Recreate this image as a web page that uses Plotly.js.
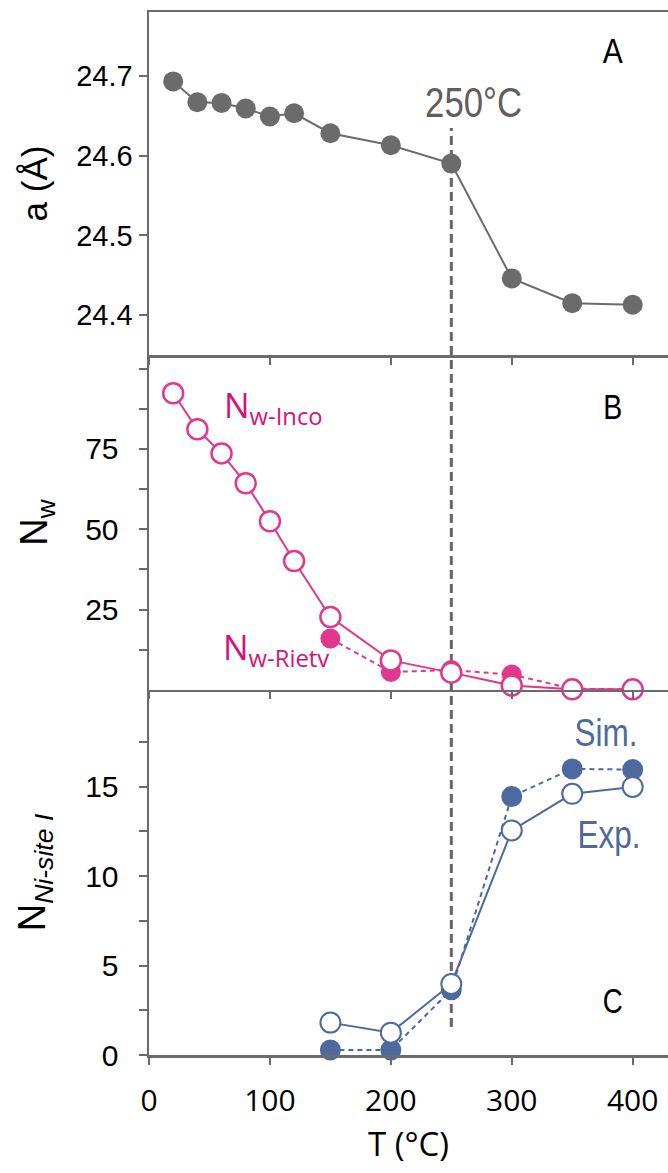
<!DOCTYPE html>
<html>
<head>
<meta charset="utf-8">
<script src="https://cdn.plot.ly/plotly-3.0.1.min.js"></script>
<style>html,body{margin:0;padding:0;background:#fff;}#chart{width:668px;height:1173px;}</style>
</head>
<body>
<div id="chart"></div>
<script>
// ---- Data ----
const T_all = [20, 40, 60, 80, 100, 120, 150, 200, 250, 300, 350, 400];
const latticeA = [24.693, 24.667, 24.666, 24.659, 24.649, 24.653, 24.628, 24.613, 24.590, 24.446, 24.415, 24.413];
const Nw_inco = [92.3, 81.1, 73.6, 64.3, 52.5, 40.1, 22.7, 9.2, 5.4, 1.4, 0.2, 0.2];
const T_rietv = [150, 200, 250, 300, 350, 400];
const Nw_rietv = [16.0, 5.6, 6.2, 4.8, 0.4, 0.2];
const T_ni = [150, 200, 250, 300, 350, 400];
const Ni_sim = [0.28, 0.28, 3.64, 14.45, 15.99, 15.95];
const Ni_exp = [1.81, 1.25, 3.97, 12.55, 14.6, 14.98];
const transitionT = 250;
const xTicks = [0, 100, 200, 300, 400];
const aTicks = [24.4, 24.5, 24.6, 24.7];
const nwTicks = [25, 50, 75];
const nwMinor = [12.5, 37.5, 62.5, 87.5, 100];
const niTicks = [0, 5, 10, 15];
const niMinor = [2.5, 7.5, 12.5, 17.5];

// ---- Styles ----
const GRAY = '#6b6b6b';
const PINK = '#e0388c';
const PINK_TXT = '#d3137a';
const BLUE = '#4c6a9f';
const AXC = '#6b6b6b';
const SANS = '"Liberation Sans", Arial, sans-serif';
const CAL = '"Open Sans", "Liberation Sans", sans-serif';

const traces = [
  {x: T_all, y: latticeA, xaxis: 'x3', yaxis: 'y3', mode: 'lines+markers',
   line: {color: GRAY, width: 2}, marker: {color: GRAY, size: 20}, cliponaxis: false},
  {x: T_rietv, y: Nw_rietv, xaxis: 'x2', yaxis: 'y2', mode: 'lines+markers',
   line: {color: PINK, width: 2, dash: '5px,4px'}, marker: {color: PINK, size: 20}, cliponaxis: false},
  {x: T_all, y: Nw_inco, xaxis: 'x2', yaxis: 'y2', mode: 'lines+markers',
   line: {color: PINK, width: 2}, marker: {color: '#ffffff', size: 20, line: {color: PINK, width: 2.5}}, cliponaxis: false},
  {x: T_ni, y: Ni_sim, xaxis: 'x', yaxis: 'y', mode: 'lines+markers',
   line: {color: BLUE, width: 2, dash: '5px,4px'}, marker: {color: BLUE, size: 21}, cliponaxis: false},
  {x: T_ni, y: Ni_exp, xaxis: 'x', yaxis: 'y', mode: 'lines+markers',
   line: {color: BLUE, width: 2}, marker: {color: '#ffffff', size: 20, line: {color: BLUE, width: 2}}, cliponaxis: false}
];

const xBase = {
  range: [0, 429.2], tickmode: 'array', tickvals: xTicks, ticks: 'outside', ticklen: 7, tickwidth: 2, tickcolor: AXC,
  showline: true, linecolor: AXC, linewidth: 2.5, showgrid: false, zeroline: false, fixedrange: true
};
const yBase = {
  tickmode: 'array', ticks: 'outside', ticklen: 8, tickwidth: 2, tickcolor: AXC,
  showline: true, linecolor: AXC, linewidth: 2.5, showgrid: false, zeroline: false,
  tickfont: {family: SANS, size: 30, color: '#000'}, ticklabelstandoff: 14
};
function minorTicks(vals) {
  return {tickmode: 'array', tickvals: vals, ticks: 'outside', ticklen: 8, tickwidth: 2, tickcolor: AXC, showgrid: false};
}

// condensed label helper: text -> target width in px
const narrowLabels = {'A': 20, 'B': 19, 'C': 20, '250°C': 97, 'Sim.': 63, 'Exp.': 63};

const layout = {
  width: 668, height: 1173,
  margin: {l: 149, r: 0, t: 12, b: 118, pad: 0},
  paper_bgcolor: '#ffffff', plot_bgcolor: '#ffffff', showlegend: false,
  xaxis: Object.assign({}, xBase, {anchor: 'y', tickfont: {family: CAL, size: 30, color: '#000'},
    ticklabelstandoff: 10,
    title: {text: 'T (°C)', font: {family: CAL, size: 33, color: '#000'}, standoff: 15}}),
  xaxis2: Object.assign({}, xBase, {anchor: 'y2', showticklabels: false}),
  xaxis3: Object.assign({}, xBase, {anchor: 'y3', showticklabels: false, mirror: true}),
  yaxis: Object.assign({}, yBase, {domain: [0, 0.34996], anchor: 'x', range: [0, 20.4],
    tickvals: niTicks, minor: minorTicks(niMinor),
    title: {text: 'N<sub><i>Ni-site I</i></sub>', font: {family: SANS, size: 38, color: '#000'}, standoff: 28}}),
  yaxis2: Object.assign({}, yBase, {domain: [0.34996, 0.67114], anchor: 'x2', range: [0, 104.2],
    tickvals: nwTicks, minor: minorTicks(nwMinor),
    title: {text: 'N<sub>w</sub>', font: {family: SANS, size: 38, color: '#000'}, standoff: 26}}),
  yaxis3: Object.assign({}, yBase, {domain: [0.67114, 1], anchor: 'x3', range: [24.35, 24.78],
    tickvals: aTicks, ticktext: aTicks.map(v => v.toFixed(1)),
    tickfont: {family: SANS, size: 29, color: '#000'}, ticklabelstandoff: 0,
    title: {text: 'a (Å)', font: {family: SANS, size: 35, color: '#000'}, standoff: 18}}),
  shapes: [
    {type: 'line', xref: 'x', yref: 'paper', x0: transitionT, x1: transitionT, y0: 0.0268, y1: 0.8888,
     line: {color: '#666666', width: 3, dash: '9px,5px'}, layer: 'below'}
  ],
  annotations: [
    {text: 'A', xref: 'paper', yref: 'paper', x: 0.8940, y: 0.9635, xanchor: 'center', yanchor: 'middle', showarrow: false,
     font: {family: SANS, size: 35, color: '#000'}},
    {text: 'B', xref: 'paper', yref: 'paper', x: 0.8940, y: 0.6218, xanchor: 'center', yanchor: 'middle', showarrow: false,
     font: {family: SANS, size: 35, color: '#000'}},
    {text: 'C', xref: 'paper', yref: 'paper', x: 0.8940, y: 0.0523, xanchor: 'center', yanchor: 'middle', showarrow: false,
     font: {family: SANS, size: 35, color: '#000'}},
    {text: '250°C', xref: 'paper', yref: 'paper', x: 0.6252, y: 0.9136, xanchor: 'center', yanchor: 'middle', showarrow: false,
     font: {family: SANS, size: 42, color: '#5e5e5e'}},
    {text: 'N<sub>w-Inco</sub>', xref: 'paper', yref: 'paper', x: 0.1407, y: 0.6210, xanchor: 'left', yanchor: 'middle', showarrow: false,
     font: {family: CAL, size: 34, color: PINK_TXT}},
    {text: 'N<sub>w-Rietv</sub>', xref: 'paper', yref: 'paper', x: 0.1387, y: 0.3895, xanchor: 'left', yanchor: 'middle', showarrow: false,
     font: {family: CAL, size: 34, color: PINK_TXT}},
    {text: 'Sim.', xref: 'paper', yref: 'paper', x: 0.8815, y: 0.3092, xanchor: 'center', yanchor: 'middle', showarrow: false,
     font: {family: SANS, size: 39, color: BLUE}},
    {text: 'Exp.', xref: 'paper', yref: 'paper', x: 0.8854, y: 0.2110, xanchor: 'center', yanchor: 'middle', showarrow: false,
     font: {family: SANS, size: 39, color: BLUE}}
  ]
};

Plotly.newPlot('chart', traces, layout, {staticPlot: true, displayModeBar: false}).then(function (gd) {
  // emulate the condensed typeface of the panel labels
  gd.querySelectorAll('.annotation-text').forEach(function (t) {
    const w = narrowLabels[t.textContent];
    if (w) {
      t.setAttribute('textLength', w);
      t.setAttribute('lengthAdjust', 'spacingAndGlyphs');
    }
  });
});
</script>
</body>
</html>
